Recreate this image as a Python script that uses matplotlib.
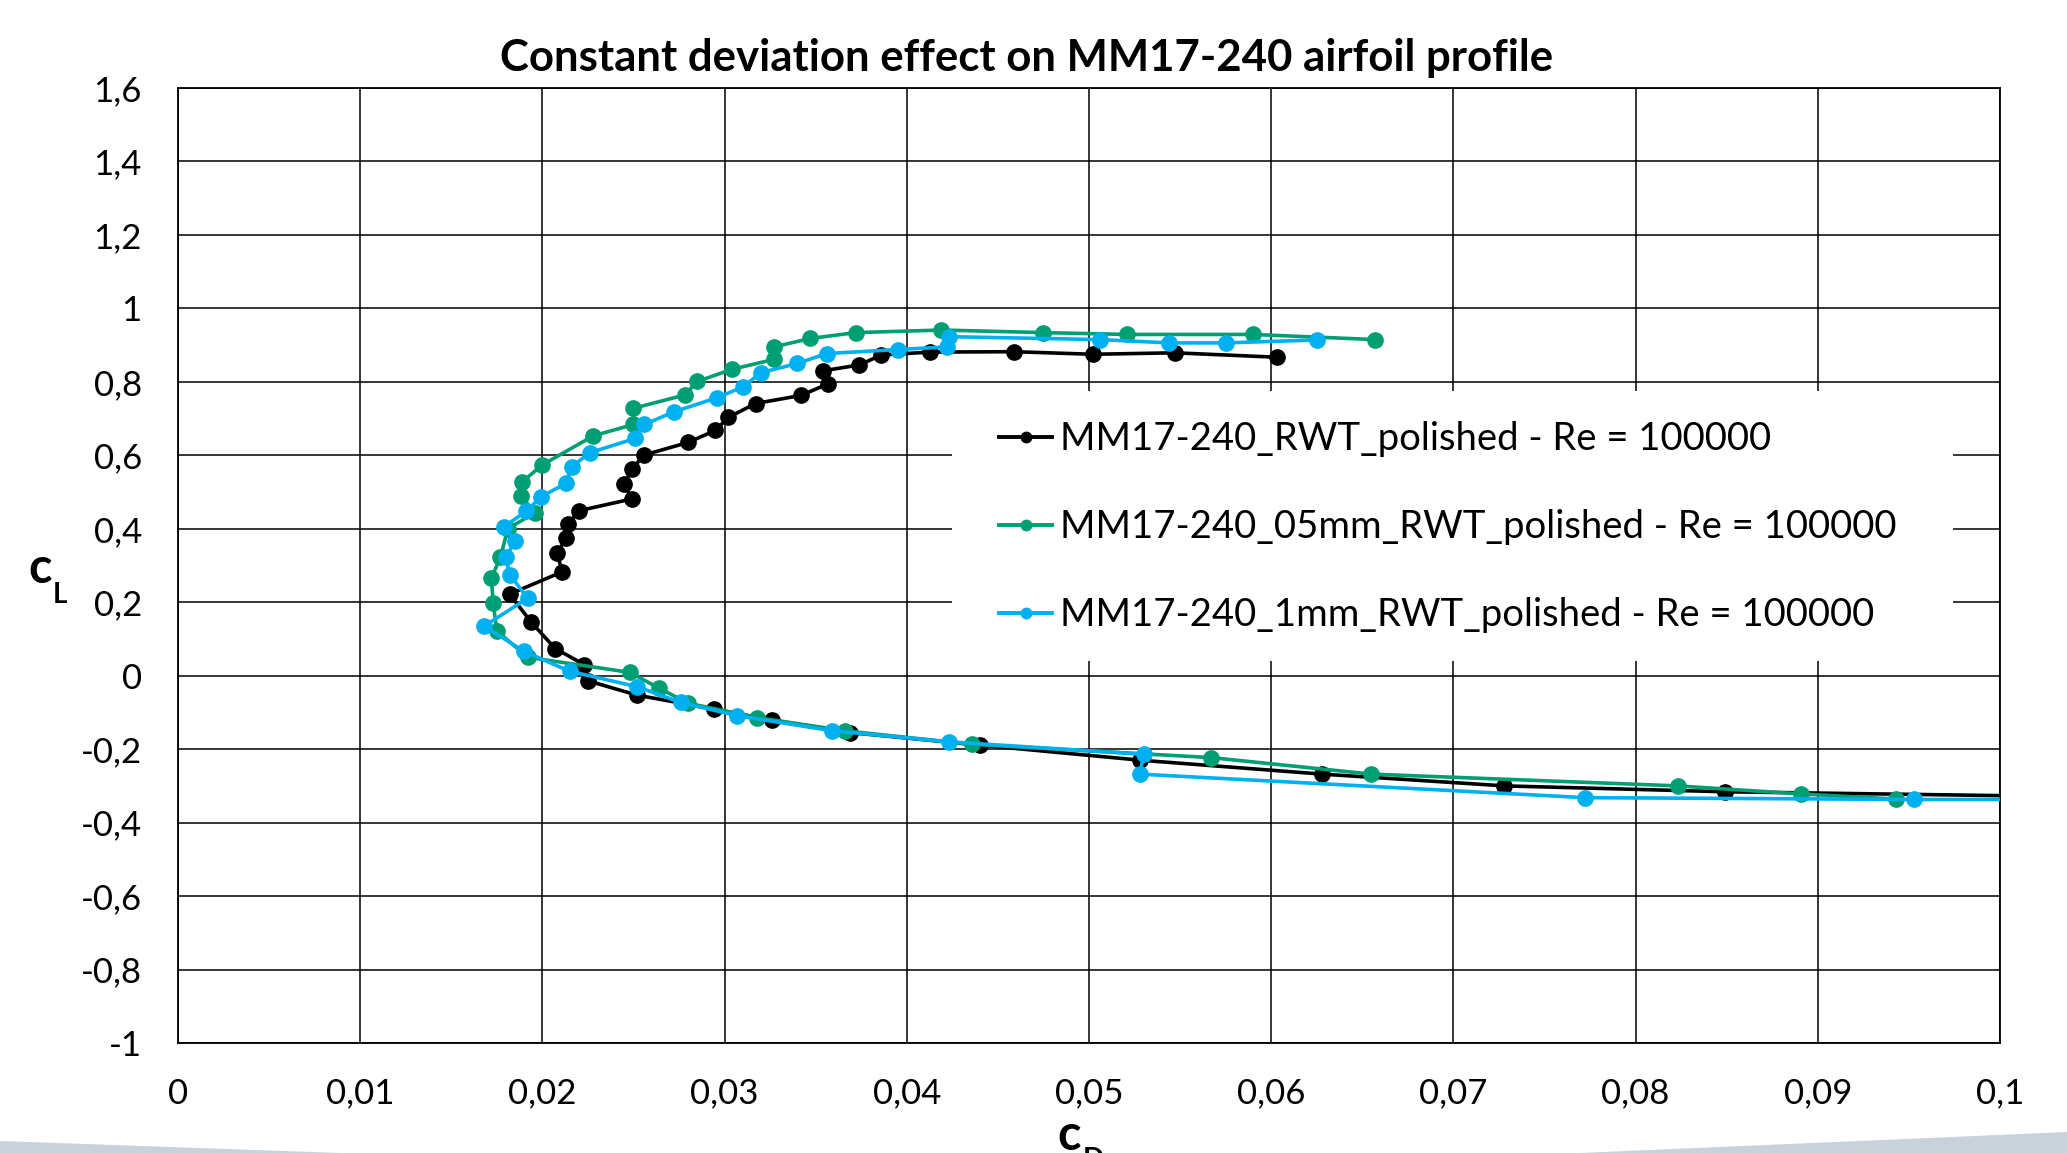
#!/usr/bin/env python3
# -*- coding: utf-8 -*-
import matplotlib
matplotlib.use("Agg")
import matplotlib.pyplot as plt
from matplotlib.lines import Line2D
from matplotlib.patches import Rectangle, Polygon

plt.rcParams['font.family'] = ['Lato', 'DejaVu Sans']

# polars, ordered from the negative-lift end up to the stall end
cd_plain = [0.105, 0.0849, 0.0728, 0.0628, 0.0528, 0.0440, 0.0369, 0.0326, 0.0294, 0.0252,
            0.0225, 0.0223, 0.0207, 0.0194, 0.0182, 0.0211, 0.0208, 0.0213, 0.0214, 0.0220,
            0.0249, 0.0245, 0.0249, 0.0256, 0.0280, 0.0295, 0.0302, 0.0317, 0.0342, 0.0357,
            0.0354, 0.0374, 0.0386, 0.0413, 0.0459, 0.0502, 0.0547, 0.0603]
cl_plain = [-0.330, -0.316, -0.300, -0.268, -0.230, -0.189, -0.155, -0.121, -0.091, -0.053,
            -0.014, 0.030, 0.074, 0.145, 0.222, 0.283, 0.333, 0.375, 0.412, 0.449,
            0.481, 0.522, 0.562, 0.601, 0.635, 0.668, 0.703, 0.741, 0.763, 0.795,
            0.830, 0.846, 0.873, 0.881, 0.882, 0.875, 0.879, 0.867]

cd_05mm = [0.0943, 0.0891, 0.0823, 0.0655, 0.0567, 0.0436, 0.0366, 0.0318, 0.0280, 0.0264,
           0.0248, 0.0192, 0.0175, 0.0173, 0.0172, 0.0177, 0.0181, 0.0196, 0.0188, 0.0189,
           0.0200, 0.0228, 0.0250, 0.0250, 0.0278, 0.0285, 0.0304, 0.0327, 0.0327, 0.0347,
           0.0372, 0.0419, 0.0475, 0.0521, 0.0590, 0.0657]
cl_05mm = [-0.336, -0.322, -0.300, -0.268, -0.223, -0.187, -0.150, -0.114, -0.075, -0.034,
           0.009, 0.050, 0.122, 0.198, 0.266, 0.322, 0.400, 0.444, 0.490, 0.528,
           0.574, 0.653, 0.684, 0.728, 0.764, 0.801, 0.834, 0.861, 0.895, 0.918,
           0.934, 0.941, 0.934, 0.929, 0.929, 0.915]

cd_1mm = [0.105, 0.0953, 0.0772, 0.0528, 0.0530, 0.0423, 0.0359, 0.0307, 0.0276, 0.0252,
          0.0215, 0.0190, 0.0168, 0.0192, 0.0182, 0.0180, 0.0185, 0.0179, 0.0191, 0.0199,
          0.0213, 0.0216, 0.0226, 0.0251, 0.0256, 0.0272, 0.0296, 0.0310, 0.0320, 0.0340,
          0.0356, 0.0395, 0.0422, 0.0423, 0.0506, 0.0544, 0.0575, 0.0625]
cl_1mm = [-0.337, -0.337, -0.332, -0.268, -0.214, -0.180, -0.150, -0.109, -0.073, -0.030,
          0.012, 0.066, 0.135, 0.211, 0.275, 0.323, 0.367, 0.406, 0.447, 0.486,
          0.524, 0.568, 0.607, 0.646, 0.684, 0.718, 0.757, 0.786, 0.825, 0.850,
          0.877, 0.888, 0.895, 0.923, 0.915, 0.906, 0.906, 0.914]

labels = ["MM17-240_RWT_polished - Re = 100000",
          "MM17-240_05mm_RWT_polished - Re = 100000",
          "MM17-240_1mm_RWT_polished - Re = 100000"]
colors = ["#000000", "#009E73", "#00B0F0"]

x_ticks = [0, 0.01, 0.02, 0.03, 0.04, 0.05, 0.06, 0.07, 0.08, 0.09, 0.1]
y_ticks = [-1, -0.8, -0.6, -0.4, -0.2, 0, 0.2, 0.4, 0.6, 0.8, 1, 1.2, 1.4, 1.6]


def comma(v):
    s = ("%.2f" % v).rstrip("0").rstrip(".")
    if s == "-0":
        s = "0"
    return s.replace(".", ",")


fig = plt.figure(figsize=(20.67, 11.53), dpi=100)
ax = fig.add_axes([0.0861, 0.0954, 0.8815, 0.8283])

series = [(cd_plain, cl_plain), (cd_05mm, cl_05mm), (cd_1mm, cl_1mm)]
for (cd, cl), c in zip(series, colors):
    ax.plot(cd, cl, color=c, lw=2.6, marker='o', ms=11, zorder=3)

ax.set_xlim(0, 0.1)
ax.set_ylim(-1, 1.6)
ax.set_xticks(x_ticks)
ax.set_xticklabels([comma(v) for v in x_ticks])
ax.set_yticks(y_ticks)
ax.set_yticklabels([comma(v) for v in y_ticks])
ax.tick_params(length=0, labelsize=25, pad=26)
ax.tick_params(axis='x', pad=25)
ax.set_axisbelow(True)
ax.grid(True, color='black', lw=1.1)
for sp in ax.spines.values():
    sp.set_linewidth(1.3)

# white box behind the legend, hides the grid
ax.add_patch(Rectangle((0.425, 0.400), 0.549, 0.283, transform=ax.transAxes,
                       facecolor='white', edgecolor='none', zorder=1))
handles = [Line2D([], [], color=c, lw=2.8, marker='o', ms=7.5) for c in colors]
ax.legend(handles, labels, loc='center left', bbox_to_anchor=(0.4506, 0.5403),
          frameon=False, fontsize=27.5, borderpad=0, handlelength=1.4,
          handletextpad=0.2, labelspacing=1.36, borderaxespad=0)

fig.text(0.4965, 0.950, "Constant deviation effect on MM17-240 airfoil profile",
         ha='center', va='center', fontsize=31.5, fontweight='bold')

# axis labels as c with subscript
fig.text(40 / 2067, 1 - 583 / 1153, "c", ha='center', va='baseline', fontsize=35, fontweight='bold')
fig.text(53 / 2067, 1 - 603 / 1153, "L", ha='left', va='baseline', fontsize=20, fontweight='bold')
fig.text(1069 / 2067, 1 - 1150 / 1153, "c", ha='center', va='baseline', fontsize=35, fontweight='bold')
fig.text(1083 / 2067, 1 - 1147 / 1153, "D", ha='left', va='top', fontsize=20, fontweight='bold')

# grey swoosh along the bottom edge of the slide
fig.patches.append(Polygon([(0, 0.0104), (0.1645, 0), (0, 0)], closed=True,
                           transform=fig.transFigure, facecolor='#c9d2da', edgecolor='none'))
fig.patches.append(Polygon([(0.7644, 0), (1, 0.0182), (1, 0)], closed=True,
                           transform=fig.transFigure, facecolor='#c9d2da', edgecolor='none'))

fig.savefig("out.png", dpi=100)
